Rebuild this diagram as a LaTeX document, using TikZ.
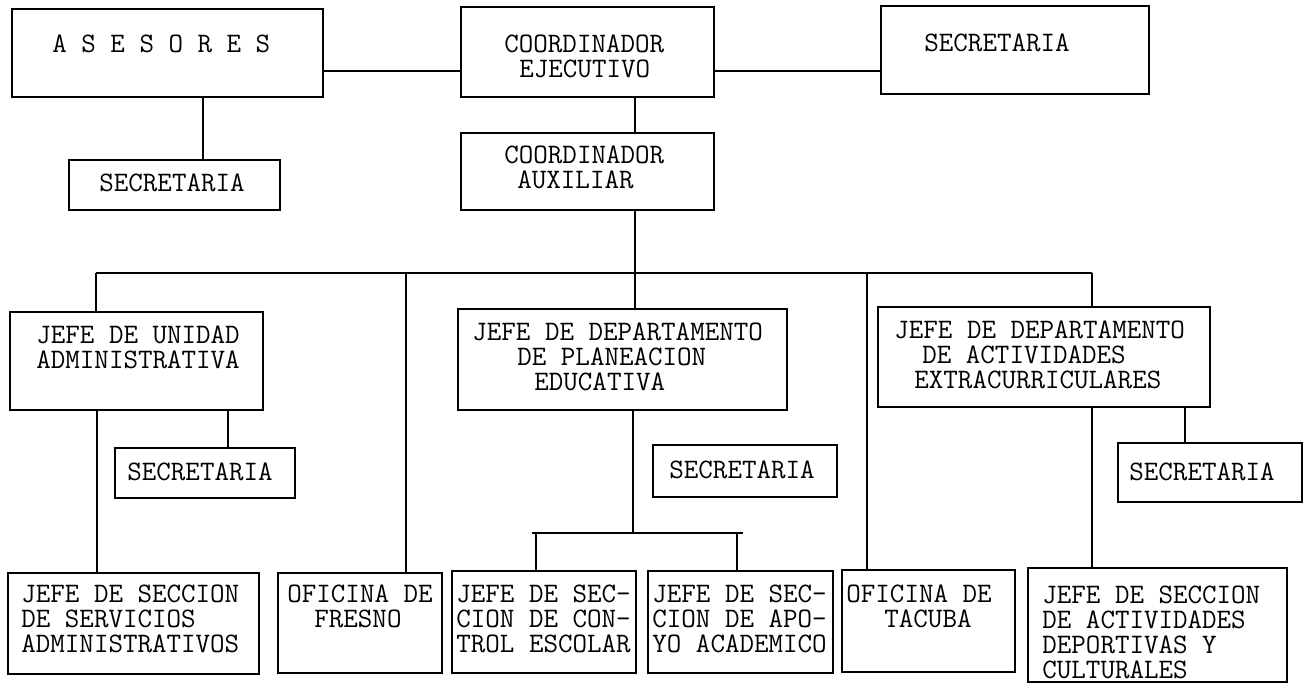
\documentclass[tikz,border=0pt]{standalone}
\usetikzlibrary{fit}
\begin{document}
\begin{tikzpicture}[x=0.5pt,y=-0.5pt,
  box/.style={draw, line width=0.6pt, inner sep=0pt, fit={#1}},
  txt/.style={inner sep=0pt, anchor=base west, align=left, font=\ttfamily\fontsize{14.1}{12.5}\selectfont},
  conn/.style={line width=0.6pt}]
\useasboundingbox (0,0) rectangle (1306,684);
% boxes
\node[box={(12,9)(323,97)}] (ases) {};
\node[box={(461,7)(714,97)}] (ejec) {};
\node[box={(881,6)(1149,94)}] (secT) {};
\node[box={(69,160)(280,210)}] (secL) {};
\node[box={(461,133)(714,210)}] (aux) {};
\node[box={(10,312)(263,410)}] (unid) {};
\node[box={(458,309)(787,410)}] (plan) {};
\node[box={(878,307)(1210,407)}] (extra) {};
\node[box={(115,448)(295,498)}] (secU) {};
\node[box={(653,445)(837,497)}] (secP) {};
\node[box={(1118,443)(1302,502)}] (secE) {};
\node[box={(8,573)(259,674)}] (serv) {};
\node[box={(278,573)(442,673)}] (fres) {};
\node[box={(452,571)(636,673)}] (ctrl) {};
\node[box={(648,571)(833,673)}] (apoyo) {};
\node[box={(842,570)(1015,672)}] (tacu) {};
\node[box={(1028,568)(1287,682)}] (dep) {};
% texts (anchor = baseline of the last line)
\node[txt] (tases) at (52,53) {A S E S O R E S};
\node[txt] (tejec) at (504,78) {COORDINADOR\\\hspace*{7.5pt}EJECUTIVO};
\node[txt] (tsecT) at (924,52) {SECRETARIA};
\node[txt] (tsecL) at (99,192) {SECRETARIA};
\node[txt] (taux) at (504,189) {COORDINADOR\\\hspace*{6.5pt}AUXILIAR};
\node[txt] (tunid) at (36,368) {JEFE DE UNIDAD\\ADMINISTRATIVA};
\node[txt] (tplan) at (472,390) {JEFE DE DEPARTAMENTO\\\hspace*{22.5pt}DE PLANEACION\\\hspace*{31pt}EDUCATIVA};
\node[txt] (textra) at (894,388) {JEFE DE DEPARTAMENTO\\\hspace*{14pt}DE ACTIVIDADES\\\hspace*{10pt}EXTRACURRICULARES};
\node[txt] (tsecU) at (127,480) {SECRETARIA};
\node[txt] (tsecP) at (669,478) {SECRETARIA};
\node[txt] (tsecE) at (1129,480) {SECRETARIA};
\node[txt] (tserv) at (21,652) {JEFE DE SECCION\\DE SERVICIOS\\ADMINISTRATIVOS};
\node[txt] (tfres) at (287,627) {OFICINA DE\\\hspace*{13.5pt}FRESNO};
\node[txt] (tctrl) at (456,652) {JEFE DE SEC-\\CION DE CON-\\TROL ESCOLAR};
\node[txt] (tapoyo) at (652,652) {JEFE DE SEC-\\CION DE APO-\\YO ACADEMICO};
\node[txt] (ttacu) at (846,627) {OFICINA DE\\\hspace*{19pt}TACUBA};
\node[txt] (tdep) at (1042,678) {JEFE DE SECCION\\DE ACTIVIDADES\\DEPORTIVAS Y\\CULTURALES};
% helper coordinates
\coordinate (yA) at (0,71);
\coordinate (x203) at (203,0);
\coordinate (x635) at (635,0);
\coordinate (bus) at (0,273);
\coordinate (bL) at (96,273);
\coordinate (bR) at (1092,273);
\coordinate (x406) at (406,0);
\coordinate (x867) at (867,0);
\coordinate (x97) at (97,0);
\coordinate (x228) at (228,0);
\coordinate (x633) at (633,0);
\coordinate (sb) at (0,533);
\coordinate (sbL) at (532,533);
\coordinate (sbR) at (743,533);
\coordinate (x536) at (536,0);
\coordinate (x737) at (737,0);
\coordinate (x1185) at (1185,0);
% connectors
\draw[conn] (ases.east |- yA) -- (ejec.west |- yA);
\draw[conn] (ejec.east |- yA) -- (secT.west |- yA);
\draw[conn] (ases.south -| x203) -- (secL.north -| x203);
\draw[conn] (ejec.south -| x635) -- (aux.north -| x635);
\draw[conn] (aux.south -| x635) -- (x635 |- bus);
\draw[conn] (bL) -- (bR);
\draw[conn] (bL) -- (unid.north -| bL);
\draw[conn] (x406 |- bus) -- (fres.north -| x406);
\draw[conn] (x635 |- bus) -- (plan.north -| x635);
\draw[conn] (x867 |- bus) -- (tacu.north -| x867);
\draw[conn] (bR) -- (extra.north -| bR);
\draw[conn] (unid.south -| x97) -- (serv.north -| x97);
\draw[conn] (unid.south -| x228) -- (secU.north -| x228);
\draw[conn] (plan.south -| x633) -- (x633 |- sb);
\draw[conn] (sbL) -- (sbR);
\draw[conn] (x536 |- sb) -- (ctrl.north -| x536);
\draw[conn] (x737 |- sb) -- (apoyo.north -| x737);
\draw[conn] (extra.south -| bR) -- (dep.north -| bR);
\draw[conn] (extra.south -| x1185) -- (secE.north -| x1185);
\end{tikzpicture}
\end{document}
